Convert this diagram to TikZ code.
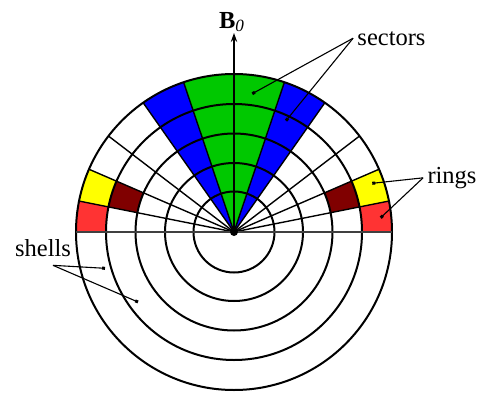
\documentclass[tikz,border=0pt]{standalone}
\usepackage{fontspec}
\setmainfont{Liberation Serif}
\usetikzlibrary{arrows.meta}
\definecolor{secGreen}{HTML}{00C800}
\definecolor{secBlue}{HTML}{0000FF}
\definecolor{ringYellow}{HTML}{FFFF00}
\definecolor{ringRed}{HTML}{FF3333}
\definecolor{ringDark}{HTML}{800000}
\tikzset{
  shell/.style = {line width=1pt, draw=black},
  ray/.style = {line width=0.7pt, draw=black},
  diameter/.style = {line width=0.6pt, draw=black!75},
  axisLine/.style = {line width=0.7pt, -{Stealth[length=4.5pt, width=3.2pt]}},
  tag/.style = {font=\fontsize{12.25}{14}\selectfont, inner sep=2pt},
  pointer/.style = {line width=0.55pt, -{Square[length=1.5pt]}},
}
% annular cell: colour, start angle, end angle, inner radius, outer radius
\newcommand{\ringcell}[5]{%
  \fill[#1] (#2:#4) arc[start angle=#2, end angle=#3, radius=#4]
    -- (#3:#5) arc[start angle=#3, end angle=#2, radius=#5] -- cycle;}
% full sector from the centre
\newcommand{\wedgecell}[4]{%
  \fill[#1] (0,0) -- (#2:#4) arc[start angle=#2, end angle=#3, radius=#4] -- cycle;}

\begin{document}
\begin{tikzpicture}[x=0.5pt, y=0.5pt]
\useasboundingbox (-234,-160) rectangle (248,232);

% coloured cells
\wedgecell{secGreen}{71.4}{108.6}{158}
\wedgecell{secBlue}{54.9}{71.4}{158}
\wedgecell{secBlue}{108.6}{125.1}{158}
\ringcell{ringYellow}{11.3}{23.4}{128}{158}
\ringcell{ringYellow}{156.6}{168.7}{128}{158}
\ringcell{ringRed}{0}{11.3}{128}{158}
\ringcell{ringRed}{168.7}{180}{128}{158}
\ringcell{ringDark}{11.3}{23.4}{98.5}{128}
\ringcell{ringDark}{156.6}{168.7}{98.5}{128}

\coordinate (centre) at (0,0);
\coordinate (tip) at (0,199);

\foreach \a in {11.3,23.4,37.4,54.9,71.4,108.6,125.1,142.6,156.6,168.7}
  \draw[ray] (centre) -- (\a:158);
\foreach \r in {40.5,69,98.5,128,158}
  \draw[shell] (centre) circle[radius=\r];
\draw[diameter] (180:158) -- (0:158);
\fill (centre) circle[radius=4];
\draw[axisLine] (centre) -- (tip);

% labels
\node[tag, anchor=base] (bfield) at (-2,204) {\textbf{B}\textsubscript{\textit{0}}};
\node[tag, anchor=base] (sectors) at (157.5,187) {sectors};
\node[tag, anchor=base] (rings) at (218,48.7) {rings};
\node[tag, anchor=base] (shells) at (-191,-24.7) {shells};

\coordinate (greenPt) at (18.3,138.3);
\coordinate (bluePt) at (52,111.3);
\coordinate (yellowPt) at (138.3,48.7);
\coordinate (redPt) at (146.7,14.3);
\coordinate (shellA) at (-129,-36.3);
\coordinate (shellB) at (-96,-70);

\draw[pointer] (sectors.west) -- (greenPt);
\draw[pointer] (sectors.west) -- (bluePt);
\draw[pointer] (rings.west) -- (yellowPt);
\draw[pointer] (rings.west) -- (redPt);
\draw[pointer] ([xshift=5pt,yshift=-2pt]shells.south) -- (shellA);
\draw[pointer] ([xshift=5pt,yshift=-2pt]shells.south) -- (shellB);
\end{tikzpicture}
\end{document}
